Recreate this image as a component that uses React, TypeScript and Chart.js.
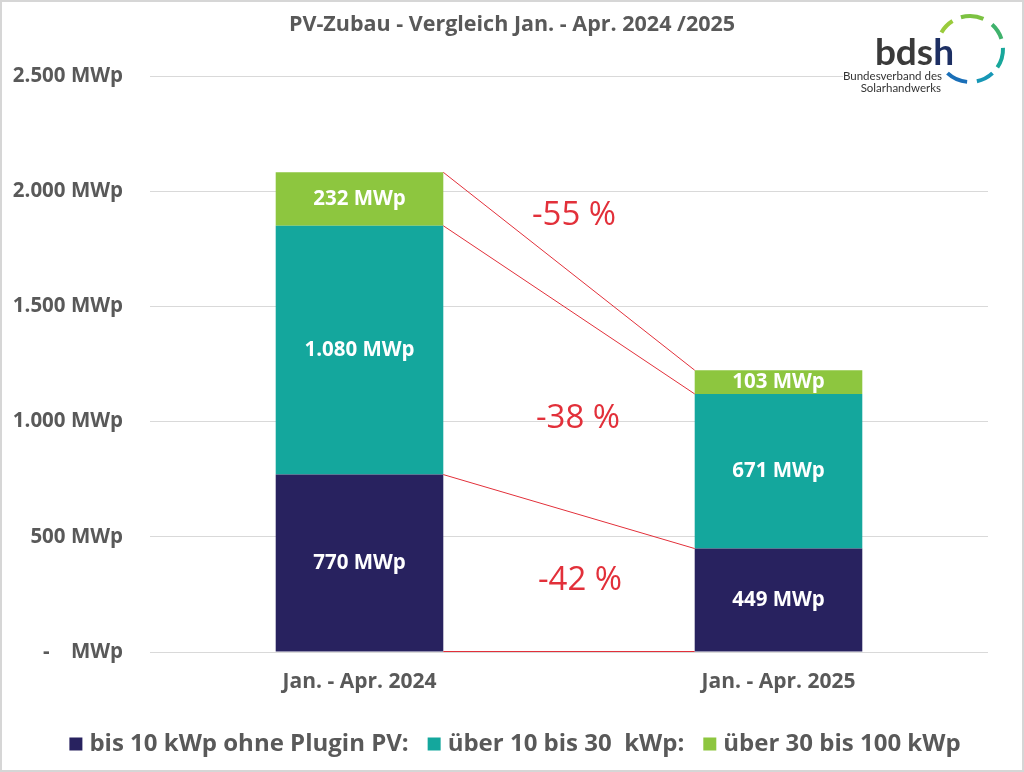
import React, { useEffect, useRef } from 'react';
import { Chart, registerables } from 'chart.js';

Chart.register(...registerables);

// ---- data ----
const categories = ['Jan. - Apr. 2024', 'Jan. - Apr. 2025'];
const seriesNames = ['bis 10 kWp ohne Plugin PV:', 'über 10 bis 30  kWp:', 'über 30 bis 100 kWp'];
const upTo10 = [770, 449];
const from10to30 = [1080, 671];
const from30to100 = [232, 103];
const yTickLabels = ['-    MWp', '500 MWp', '1.000 MWp', '1.500 MWp', '2.000 MWp', '2.500 MWp'];
const changeLabels = ['-42 %', '-38 %', '-55 %'];
const titleText = 'PV-Zubau - Vergleich Jan. - Apr. 2024 /2025';

// ---- styles ----
const FONT = "'Open Sans', Lato, sans-serif";
const LOGO_FONT = "Lato, 'Open Sans', sans-serif";
const GREY_TEXT = '#595959';
const RED = '#e2303a';
const COLORS = ['#28225f', '#14a79d', '#8dc63f'];
const changeLabelAt = [308, 1012, 1893]; // annotation heights (data units)
const changeLabelDx = [11, 9, 5];

function fmt(v: number): string {
  const s = v >= 1000 ? `${Math.floor(v / 1000)}.${String(v % 1000).padStart(3, '0')}` : String(v);
  return s + ' MWp';
}

const overlayPlugin = {
  id: 'overlay',
  afterDatasetsDraw(chart: any) {
    const ctx = chart.ctx as CanvasRenderingContext2D;
    const metas = [0, 1, 2].map((i) => chart.getDatasetMeta(i));
    ctx.save();
    // connector lines
    ctx.strokeStyle = RED;
    ctx.lineWidth = 1;
    const a0 = metas[0].data[0];
    const a1 = metas[0].data[1];
    const segs: Array<[number, number, number, number]> = [];
    const by0 = Math.floor(a0.base) + 0.5;
    const by1 = Math.floor(a1.base) + 0.5;
    segs.push([a0.x + a0.width / 2, by0, a1.x - a1.width / 2, by1]);
    metas.forEach((m: any) => {
      const e0 = m.data[0];
      const e1 = m.data[1];
      segs.push([e0.x + e0.width / 2, e0.y, e1.x - e1.width / 2, e1.y]);
    });
    segs.forEach(([x1, y1, x2, y2]) => {
      ctx.beginPath();
      ctx.moveTo(x1, y1);
      ctx.lineTo(x2, y2);
      ctx.stroke();
    });
    // value labels
    ctx.fillStyle = '#ffffff';
    ctx.font = `bold 20.5px ${FONT}`;
    ctx.textAlign = 'center';
    ctx.textBaseline = 'middle';
    metas.forEach((m: any, di: number) => {
      m.data.forEach((el: any, i: number) => {
        const v = chart.data.datasets[di].data[i] as number;
        ctx.fillText(fmt(v), el.x, (el.y + el.base) / 2);
      });
    });
    // change labels
    const yScale = chart.scales.y;
    const midX = (a0.x + a0.width / 2 + a1.x - a1.width / 2) / 2;
    ctx.fillStyle = RED;
    ctx.font = `33px ${FONT}`;
    changeLabels.forEach((t, i) => {
      ctx.fillText(t, midX + changeLabelDx[i], yScale.getPixelForValue(changeLabelAt[i]));
    });
    ctx.restore();
  },
  afterDraw(chart: any) {
    const ctx = chart.ctx as CanvasRenderingContext2D;
    const W = chart.width;
    const H = chart.height;
    ctx.save();
    // title
    ctx.fillStyle = GREY_TEXT;
    ctx.font = `bold 21.5px ${FONT}`;
    ctx.textAlign = 'center';
    ctx.textBaseline = 'middle';
    ctx.fillText(titleText, 512, 25);

    // legend
    ctx.font = `bold 24px ${FONT}`;
    const box = 13;
    const gap = 7;
    const spacing = 19;
    const widths = seriesNames.map((n) => ctx.measureText(n).width);
    const total = widths.reduce((s, w) => s + box + gap + w, 0) + spacing * (seriesNames.length - 1);
    let x = 515 - total / 2;
    const ly = 744;
    ctx.textAlign = 'left';
    seriesNames.forEach((n, i) => {
      ctx.fillStyle = COLORS[i];
      ctx.fillRect(x, ly - box / 2, box, box);
      x += box + gap;
      ctx.fillStyle = GREY_TEXT;
      ctx.fillText(n, x, ly);
      x += widths[i] + spacing;
    });

    // logo
    ctx.fillStyle = '#ffffff';
    ctx.fillRect(843, 6, 175, 90);
    const cx = 970;
    const cy = 49;
    const r = 33;
    const arcs: Array<[number, number, string]> = [
      [-150, -122, '#9acb3c'],
      [-106, -66, '#7cc242'],
      [-48, -18, '#3fb26c'],
      [-2, 34, '#18a79b'],
      [47, 78, '#1797b6'],
      [95, 133, '#1a6fb8'],
    ];
    ctx.lineWidth = 4;
    ctx.lineCap = 'butt';
    arcs.forEach(([s, e, c]) => {
      ctx.strokeStyle = c;
      ctx.beginPath();
      ctx.arc(cx, cy, r, (s * Math.PI) / 180, (e * Math.PI) / 180);
      ctx.stroke();
    });
    ctx.font = `bold 37px ${LOGO_FONT}`;
    ctx.textBaseline = 'alphabetic';
    const wb = ctx.measureText('bds').width;
    const wh = ctx.measureText('h').width;
    const startX = 954 - wb - wh;
    ctx.fillStyle = '#3a3a3a';
    ctx.fillText('bds', startX, 65);
    ctx.fillStyle = '#1d2f63';
    ctx.fillText('h', startX + wb, 65);
    ctx.font = `11.5px ${LOGO_FONT}`;
    ctx.fillStyle = '#333333';
    ctx.textAlign = 'right';
    ctx.fillText('Bundesverband des', 942, 80);
    ctx.fillText('Solarhandwerks', 941, 92);

    // frame
    ctx.strokeStyle = '#d6d6d6';
    ctx.lineWidth = 2;
    ctx.strokeRect(1, 1, W - 2, H - 2);
    ctx.restore();
  },
};

export default function App() {
  const ref = useRef<HTMLCanvasElement>(null);
  useEffect(() => {
    const chart = new Chart(ref.current as HTMLCanvasElement, {
      type: 'bar',
      data: {
        labels: categories,
        datasets: [
          { label: seriesNames[0], data: upTo10, backgroundColor: COLORS[0] },
          { label: seriesNames[1], data: from10to30, backgroundColor: COLORS[1] },
          { label: seriesNames[2], data: from30to100, backgroundColor: COLORS[2] },
        ],
      },
      options: {
        responsive: false,
        animation: false,
        devicePixelRatio: 1,
        datasets: { bar: { categoryPercentage: 1, barPercentage: 0.4 } },
        layout: { padding: { top: 76, left: 0, right: 36, bottom: 70 } },
        plugins: {
          legend: { display: false },
          title: { display: false },
          tooltip: { enabled: false },
        },
        scales: {
          x: {
            stacked: true,
            grid: { display: false, drawTicks: false },
            border: { display: false },
            ticks: { color: GREY_TEXT, font: { family: FONT, size: 21, weight: 'bold' }, padding: 17 },
            afterFit: (s: any) => {
              s.height = 50;
            },
          },
          y: {
            stacked: true,
            min: 0,
            max: 2500,
            grid: { color: '#d9d9d9', lineWidth: 1, drawTicks: false },
            border: { display: false },
            ticks: {
              stepSize: 500,
              color: GREY_TEXT,
              font: { family: FONT, size: 20.5, weight: 'bold' },
              padding: 27,
              callback: (_v: any, i: number) => yTickLabels[i],
            },
            afterFit: (s: any) => {
              s.width = 150;
            },
          },
        },
      },
      plugins: [overlayPlugin],
    });
    return () => chart.destroy();
  }, []);
  return (
    <div style={{ position: 'fixed', left: 0, top: 0, width: 1024, height: 772, background: '#ffffff' }}>
      <canvas ref={ref} width={1024} height={772} style={{ display: 'block', width: 1024, height: 772 }} />
    </div>
  );
}
